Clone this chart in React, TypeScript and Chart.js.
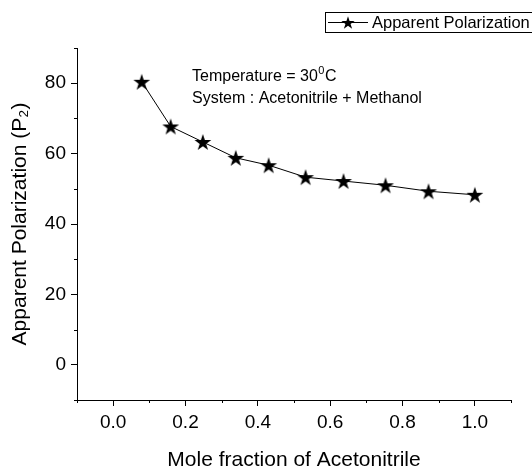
import React, { useEffect, useRef } from "react";
import { Chart, registerables } from "chart.js";

Chart.register(...registerables);

// ---- data ----
const seriesLabel = "Apparent Polarization";
const moleFraction = [0.079, 0.159, 0.248, 0.339, 0.43, 0.532, 0.637, 0.753, 0.872, 1.0];
const polarization = [80.4, 67.7, 63.3, 58.8, 56.7, 53.3, 52.2, 51.0, 49.3, 48.3];
const xMajorTicks = [0, 0.2, 0.4, 0.6, 0.8, 1.0];
const xMinorTicks = [-0.1, 0.1, 0.3, 0.5, 0.7, 0.9, 1.1];
const yMajorTicks = [0, 20, 40, 60, 80];
const yMinorTicks = [-10, 10, 30, 50, 70, 90];
const xTitle = "Mole fraction of Acetonitrile";
const yTitle = "Apparent Polarization (P\u2082)";
const noteLine1 = "Temperature = 30";
const noteSup = "0";
const noteUnit = "C";
const noteLine2 = "System : Acetonitrile + Methanol";

const FONT = "'Liberation Sans', Arial, sans-serif";

function drawStar(ctx: CanvasRenderingContext2D, cx: number, cy: number, r: number) {
  // center the bounding box of the star on (cx, cy)
  const inner = r * 0.382;
  const shift = (r - r * Math.cos(Math.PI / 5)) / 2;
  ctx.beginPath();
  for (let i = 0; i < 10; i++) {
    const rad = i % 2 === 0 ? r : inner;
    const a = -Math.PI / 2 + (i * Math.PI) / 5;
    const x = cx + rad * Math.cos(a);
    const y = cy + shift + rad * Math.sin(a);
    if (i === 0) ctx.moveTo(x, y);
    else ctx.lineTo(x, y);
  }
  ctx.closePath();
  ctx.fill();
}

function makeStarCanvas(r: number) {
  const size = Math.ceil(r * 2) + 2;
  const c = document.createElement("canvas");
  c.width = size;
  c.height = size;
  const ctx = c.getContext("2d")!;
  ctx.fillStyle = "#000";
  drawStar(ctx, size / 2, size / 2, r);
  return c;
}

const overlayPlugin = {
  id: "overlay",
  afterDraw(chart: any) {
    const ctx: CanvasRenderingContext2D = chart.ctx;
    const xs = chart.scales.x;
    const ys = chart.scales.y;
    const area = chart.chartArea;
    ctx.save();
    // minor ticks
    ctx.strokeStyle = "#000";
    ctx.lineWidth = 1;
    ctx.beginPath();
    xMinorTicks.forEach((v) => {
      const px = Math.round(xs.getPixelForValue(v)) + 0.5;
      ctx.moveTo(px, area.bottom);
      ctx.lineTo(px, area.bottom + 3);
    });
    yMinorTicks.forEach((v) => {
      const py = Math.round(ys.getPixelForValue(v)) + 0.5;
      ctx.moveTo(area.left - 3, py);
      ctx.lineTo(area.left, py);
    });
    ctx.stroke();

    // annotation
    ctx.fillStyle = "#000";
    ctx.textBaseline = "middle";
    ctx.textAlign = "left";
    ctx.font = `16px ${FONT}`;
    const ax = 192;
    ctx.fillText(noteLine1, ax, 77);
    const w1 = ctx.measureText(noteLine1).width;
    ctx.font = `11px ${FONT}`;
    ctx.fillText(noteSup, ax + w1 + 0.5, 71);
    const w2 = ctx.measureText(noteSup).width;
    ctx.font = `16px ${FONT}`;
    ctx.fillText(noteUnit, ax + w1 + w2 + 1, 77);
    ctx.fillText(noteLine2, ax, 98.5);

    // legend
    const ds = chart.data.datasets[0];
    ctx.strokeRect(325.5, 12.5, 220, 20);
    ctx.beginPath();
    ctx.moveTo(328, 22.5);
    ctx.lineTo(368, 22.5);
    ctx.stroke();
    drawStar(ctx, 348, 22.5, 7);
    ctx.font = `16.5px ${FONT}`;
    ctx.fillText(ds.label, 372, 23);
    ctx.restore();
  },
};

export default function App() {
  const ref = useRef<HTMLCanvasElement | null>(null);

  useEffect(() => {
    document.body.style.margin = "0";
    const canvas = ref.current!;
    const star = makeStarCanvas(8.8);
    const chart = new Chart(canvas, {
      type: "line",
      data: {
        datasets: [
          {
            label: seriesLabel,
            data: moleFraction.map((x, i) => ({ x, y: polarization[i] })),
            borderColor: "#000",
            backgroundColor: "#000",
            borderWidth: 1,
            pointStyle: star as any,
            pointRadius: 8,
            tension: 0,
            fill: false,
          },
        ],
      },
      options: {
        responsive: false,
        animation: false,
        events: [],
        layout: { padding: { top: 48, right: 21, left: 0, bottom: 0 } },
        plugins: {
          legend: { display: false },
          tooltip: { enabled: false },
        },
        scales: {
          x: {
            type: "linear",
            min: -0.1,
            max: 1.1,
            afterBuildTicks: (s: any) => {
              s.ticks = xMajorTicks.map((value) => ({ value }));
            },
            afterFit: (s: any) => {
              s.height = 71;
            },
            grid: {
              drawOnChartArea: false,
              drawTicks: true,
              tickLength: 6,
              color: "#000",
              tickColor: "#000",
            },
            border: { display: true, color: "#000", width: 1 },
            ticks: {
              color: "#000",
              font: { family: FONT, size: 19 },
              padding: 5,
              maxRotation: 0,
              autoSkip: false,
              callback: (v: any) => Number(v).toFixed(1),
            },
            title: {
              display: true,
              text: xTitle,
              color: "#000",
              font: { family: FONT, size: 21, lineHeight: 1 },
              padding: { top: 0, bottom: 0 },
            },
          },
          y: {
            type: "linear",
            min: -10,
            max: 90,
            afterBuildTicks: (s: any) => {
              s.ticks = yMajorTicks.map((value) => ({ value }));
            },
            afterFit: (s: any) => {
              s.width = 77;
            },
            grid: {
              drawOnChartArea: false,
              drawTicks: true,
              tickLength: 6,
              color: "#000",
              tickColor: "#000",
            },
            border: { display: true, color: "#000", width: 1 },
            ticks: {
              color: "#000",
              font: { family: FONT, size: 19 },
              padding: 5,
              autoSkip: false,
              callback: (v: any) => String(v),
            },
            title: {
              display: true,
              text: yTitle,
              color: "#000",
              font: { family: FONT, size: 21 },
              padding: { top: 8, bottom: 0 },
            },
          },
        },
      },
      plugins: [overlayPlugin],
    });
    return () => chart.destroy();
  }, []);

  return (
    <div style={{ width: 532, height: 471, background: "#fff" }}>
      <canvas ref={ref} width={532} height={471} style={{ display: "block" }} />
    </div>
  );
}
